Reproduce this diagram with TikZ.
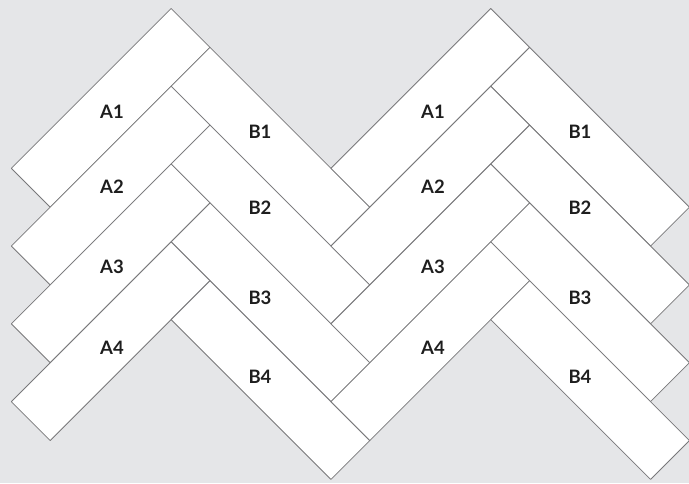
\documentclass[tikz,border=0pt]{standalone}
\usepackage{fontspec}
\setsansfont{Lato}
\definecolor{bgcol}{HTML}{E5E6E8}
\definecolor{tileline}{HTML}{78787A}
\definecolor{labcol}{HTML}{1E1E1E}
\begin{document}
\begin{tikzpicture}[x=1pt,y=1pt,
  tile/.style={fill=white, draw=tileline, line width=0.8pt, line join=round},
  lab/.style={font=\sffamily\bfseries\fontsize{18.5}{18.5}\selectfont, text=labcol}]
\fill[bgcol] (0,0) rectangle (689,483);
\useasboundingbox (0,0) rectangle (689,483);
\begin{scope}[shift={(0,483)}, rotate=45]
  \foreach \s in {0,226} {
    \foreach \k in {0,1,2,3} {
      % A tile (long side rising to the right)
      \draw[tile] ({115-55*\k+\s-226},{-127-55*\k-\s}) -- ({115-55*\k+\s},{-127-55*\k-\s})
        -- ({115-55*\k+\s},{-182-55*\k-\s}) -- ({115-55*\k+\s-226},{-182-55*\k-\s}) -- cycle;
      % B tile (long side falling to the right)
      \draw[tile] ({60-55*\k+\s},{-182-55*\k-\s}) -- ({115-55*\k+\s},{-182-55*\k-\s})
        -- ({115-55*\k+\s},{-408-55*\k-\s}) -- ({60-55*\k+\s},{-408-55*\k-\s}) -- cycle;
    }
  }
\end{scope}
% labels, left herringbone
\node[lab] (lA1) at (112,371) {A1};
\node[lab] (lA2) at (112,296) {A2};
\node[lab] (lA3) at (112,216) {A3};
\node[lab] (lA4) at (112,135) {A4};
\node[lab] (lB1) at (260,351) {B1};
\node[lab] (lB2) at (260,275) {B2};
\node[lab] (lB3) at (260,185) {B3};
\node[lab] (lB4) at (260,106) {B4};
% labels, right herringbone
\node[lab] (rA1) at (433,371) {A1};
\node[lab] (rA2) at (433,296) {A2};
\node[lab] (rA3) at (433,216) {A3};
\node[lab] (rA4) at (433,135) {A4};
\node[lab] (rB1) at (580,351) {B1};
\node[lab] (rB2) at (580,275) {B2};
\node[lab] (rB3) at (580,185) {B3};
\node[lab] (rB4) at (580,106) {B4};
\end{tikzpicture}
\end{document}
